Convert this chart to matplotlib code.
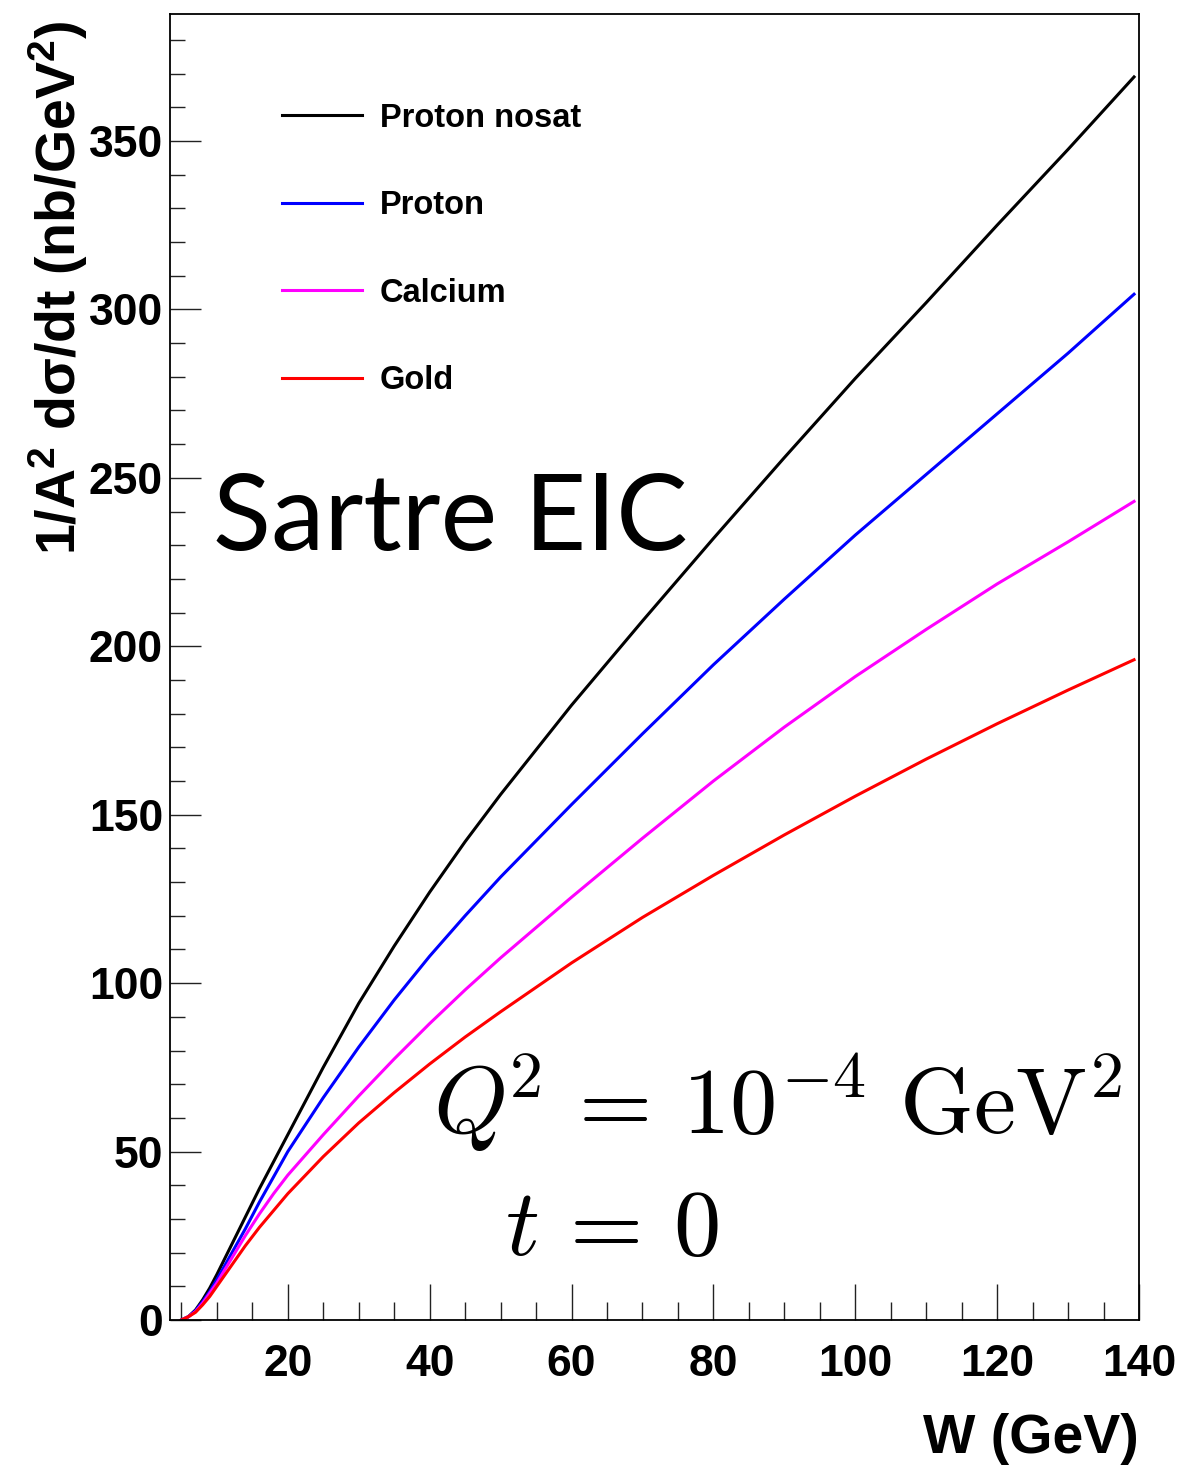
import matplotlib
matplotlib.use("Agg")
import matplotlib.pyplot as plt
from matplotlib.ticker import MultipleLocator

plt.rcParams['font.family'] = ['Liberation Sans', 'DejaVu Sans']
plt.rcParams['mathtext.fontset'] = 'custom'
plt.rcParams['mathtext.rm'] = 'Liberation Sans:bold'
plt.rcParams['mathtext.it'] = 'Liberation Sans:bold'
plt.rcParams['mathtext.bf'] = 'Liberation Sans:bold'

# W (GeV) and 1/A^2 dsigma/dt (nb/GeV^2)
w = [5, 6, 7, 8, 9, 10, 12, 14, 16, 18, 20, 25, 30, 35, 40, 45, 50,
     60, 70, 80, 90, 100, 110, 120, 130, 139.3]
proton_nosat = [0, 1, 3, 6, 9.5, 13.5, 22, 30.5, 39, 47, 55, 75, 94, 111, 127, 142, 156,
                182.5, 207.5, 232, 256, 279.5, 302, 325, 347.5, 369]
proton = [0, 1, 2.8, 5.5, 8.5, 12, 19.5, 27, 35, 42.5, 50, 66, 81, 95, 108, 120, 131.5,
          153, 174, 194.5, 214, 233, 251, 269, 287, 304.5]
calcium = [0, 1, 2.5, 5, 8, 11, 18, 25, 31.5, 37.5, 43, 55, 66.5, 77.5, 88, 98, 107.5,
           125.5, 143, 160, 176, 191, 205, 218.5, 231, 243]
gold = [0, 1, 2.3, 4.5, 7, 10, 16, 22, 27.5, 32.5, 37.5, 48.5, 58.5, 67.5, 76, 84, 91.5,
        106, 119.5, 132, 144, 155.5, 166.5, 177, 187, 196]

series = [
    ('Proton nosat', proton_nosat, 'black'),
    ('Proton', proton, 'blue'),
    ('Calcium', calcium, 'magenta'),
    ('Gold', gold, 'red'),
]

fig = plt.figure(figsize=(11.84, 14.68), dpi=100)
ax = fig.add_axes([0.1436, 0.1008, 0.8184, 0.8897])

for name, vals, col in series:
    ax.plot(w, vals, color=col, lw=2.2, label=name)

ax.set_xlim(3.4, 140)
ax.set_ylim(0, 387.7)

ax.xaxis.set_major_locator(MultipleLocator(20))
ax.xaxis.set_minor_locator(MultipleLocator(5))
ax.yaxis.set_major_locator(MultipleLocator(50))
ax.yaxis.set_minor_locator(MultipleLocator(10))
ax.tick_params(which='both', direction='in', top=False, right=False, width=1.0, color='#222222')
ax.tick_params(axis='x', which='major', length=26, pad=17, labelsize=32)
ax.tick_params(axis='x', which='minor', length=13)
ax.tick_params(axis='y', which='major', length=22, pad=5, labelsize=32)
ax.tick_params(axis='y', which='minor', length=11)
for lab in ax.get_xticklabels() + ax.get_yticklabels():
    lab.set_fontweight('bold')
for sp in ax.spines.values():
    sp.set_linewidth(1.3)

ax.set_xlabel('W (GeV)', fontsize=40, fontweight='bold', loc='right')
ax.xaxis.set_label_coords(1.0, -0.071)
ax.set_ylabel(r'1/A$^{2}$ d$\sigma$/dt (nb/GeV$^{2}$)', fontsize=40, fontweight='bold', loc='top')
ax.yaxis.set_label_coords(-0.083, 0.995)

ax.legend(loc='upper left', bbox_to_anchor=(0.1156, 0.932), frameon=False,
          borderpad=0, borderaxespad=0, handlelength=2.45, handletextpad=0.55,
          labelspacing=1.73, prop={'family': 'Liberation Sans', 'weight': 'bold', 'size': 23.5})

ax.text(0.0444, 0.5896, 'Sartre EIC', transform=ax.transAxes, fontsize=77,
        family='Lato', va='baseline', ha='left')
ax.text(0.2714, 0.1417, r'$Q^{\!2}\,=\,10^{-4}\ \mathrm{GeV}^2$', transform=ax.transAxes,
        fontsize=68, math_fontfamily='cm', va='baseline', ha='left')
ax.text(0.3457, 0.0498, r'$t\,=\,0$', transform=ax.transAxes,
        fontsize=68, math_fontfamily='cm', va='baseline', ha='left')

fig.savefig('out.png', dpi=100)
